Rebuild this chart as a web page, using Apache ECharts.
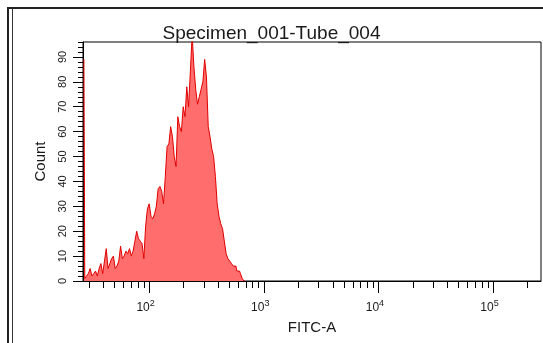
<!DOCTYPE html>
<html>
<head>
<meta charset="utf-8">
<script src="https://cdn.jsdelivr.net/npm/echarts@6/dist/echarts.min.js"></script>
<style>
  html, body { margin: 0; padding: 0; background: #ffffff; }
  #chart { width: 543px; height: 343px; }
</style>
</head>
<body>
<div id="chart"></div>
<script>
// ---- texts ----
const titleText = 'Specimen_001-Tube_004';
const xAxisName = 'FITC-A';
const yAxisName = 'Count';

// ---- FITC-A display scale (log, linear units) ----
const fitcMin = 26.5;
const fitcMax = 262144;
const channelCount = 256;

// ---- event counts per display channel, from channel 0 upward ----
const counts = [
  89, 1, 2, 3, 5, 2, 3, 4, 2, 5,
  7, 3, 8, 13, 5, 7, 9, 10, 5, 6,
  8, 14, 9, 10, 12, 11, 13, 10, 12, 16,
  20, 17, 16, 15, 9, 22, 29, 31, 26, 25,
  27, 30, 37, 38, 36, 31, 42, 54, 55, 62,
  58, 50, 46, 66, 62, 60, 70, 66, 78, 70,
  84, 99, 86, 77, 71, 74, 77, 80, 89, 82,
  62, 58, 53, 50, 42, 31, 26, 23, 21, 16,
  11, 9, 8, 7, 6, 6, 4, 4, 3, 1,
  0
];

// ---- x-axis ticks (FITC-A units) ----
const decadeTicks = [100, 1000, 10000, 100000];
const minorTicks = [
  30, 40, 50, 60, 70, 80, 90,
  200, 300, 400, 500, 600, 700, 800, 900,
  2000, 3000, 4000, 5000, 6000, 7000, 8000, 9000,
  20000, 30000, 40000, 50000, 60000, 70000, 80000, 90000,
  200000
];

// ---- y-axis ticks (counts) ----
const countMax = 96;
const countLabels = [0, 10, 20, 30, 40, 50, 60, 70, 80, 90];
const countMinorTicks = [
  2, 4, 6, 8, 12, 14, 16, 18, 22, 24, 26, 28, 32, 34, 36, 38,
  42, 44, 46, 48, 52, 54, 56, 58, 62, 64, 66, 68, 72, 74, 76, 78,
  82, 84, 86, 88, 92, 94, 96
];

// The x axis runs in log10(FITC-A) so ticks can sit on 2..9 x 10^n.
const lg = v => Math.log10(v);
const xLo = lg(fitcMin);
const xHi = lg(fitcMax);
const chWidth = (xHi - xLo) / channelCount;
const histData = counts.map((c, i) => [xLo + (i + 0.5) * chWidth, c]);

const chart = echarts.init(document.getElementById('chart'), null, { renderer: 'canvas' });

const sharedX = { type: 'value', min: xLo, max: xHi, gridIndex: 0, position: 'bottom', splitLine: { show: false } };
const sharedY = { type: 'value', min: 0, max: countMax, gridIndex: 0, position: 'left', splitLine: { show: false } };

chart.setOption({
  animation: false,
  backgroundColor: '#ffffff',
  textStyle: { fontFamily: 'Liberation Sans, Arial, sans-serif' },
  title: {
    text: titleText,
    left: 'center',
    top: 19,
    textStyle: { fontSize: 19, fontWeight: 'normal', color: '#1a1a1a', fontFamily: 'Liberation Sans, Arial, sans-serif' }
  },
  grid: {
    left: 83, top: 42, right: 2, bottom: 62,
    show: true, borderColor: '#000', borderWidth: 1, backgroundColor: 'transparent'
  },
  xAxis: [
    Object.assign({}, sharedX, {
      name: xAxisName,
      nameLocation: 'middle',
      nameGap: 39,
      nameTextStyle: { fontSize: 15, color: '#1a1a1a' },
      axisLine: { show: true, lineStyle: { color: '#000', width: 1 } },
      axisTick: { show: true, length: 12, lineStyle: { color: '#000' }, customValues: decadeTicks.map(lg) },
      axisLabel: {
        show: true,
        margin: 18,
        padding: [0, 7, 0, 0],
        customValues: decadeTicks.map(lg),
        formatter: v => '{b|10}{s|' + Math.round(v) + '}',
        rich: {
          b: { fontSize: 12, color: '#1a1a1a', lineHeight: 14 },
          s: { fontSize: 9, color: '#1a1a1a', padding: [0, 0, 9, 0] }
        }
      }
    }),
    Object.assign({}, sharedX, {
      axisLine: { show: false },
      axisTick: { show: true, length: 7, lineStyle: { color: '#000' }, customValues: minorTicks.map(lg) },
      axisLabel: { show: false }
    })
  ],
  yAxis: [
    Object.assign({}, sharedY, {
      name: yAxisName,
      nameLocation: 'middle',
      nameGap: 35,
      nameRotate: 90,
      nameTextStyle: { fontSize: 15, color: '#1a1a1a' },
      axisLine: { show: true, lineStyle: { color: '#000', width: 1 } },
      axisTick: { show: true, length: 10, lineStyle: { color: '#000' }, customValues: countLabels },
      axisLabel: {
        show: true, rotate: 90, margin: 15, fontSize: 11, color: '#1a1a1a',
        customValues: countLabels
      }
    }),
    Object.assign({}, sharedY, {
      axisLine: { show: false },
      axisTick: { show: true, length: 5, lineStyle: { color: '#000' }, customValues: countMinorTicks },
      axisLabel: { show: false }
    })
  ],
  series: [{
    type: 'line',
    xAxisIndex: 0,
    yAxisIndex: 0,
    data: histData,
    step: 'middle',
    symbol: 'none',
    clip: true,
    lineStyle: { color: '#e00000', width: 1 },
    areaStyle: { color: '#ff6d6d', opacity: 1, origin: 'start' }
  }],
  graphic: [
    { type: 'polyline', silent: true, shape: { points: [[8, 343], [8, 8], [543, 8]] }, style: { stroke: '#222', lineWidth: 2, fill: null } },
    { type: 'polyline', silent: true, shape: { points: [[12.5, 343], [12.5, 9]] }, style: { stroke: '#333', lineWidth: 1, fill: null } }
  ]
});
</script>
</body>
</html>
